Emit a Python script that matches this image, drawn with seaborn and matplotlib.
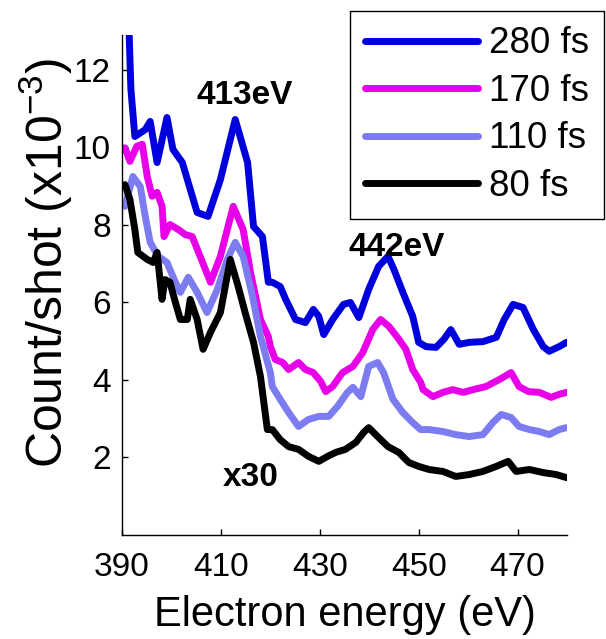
import matplotlib
matplotlib.use("Agg")
import matplotlib.pyplot as plt
from matplotlib.lines import Line2D
import numpy as np
import pandas as pd
import seaborn as sns

# ---- data ----
delays = ["280 fs", "170 fs", "110 fs", "80 fs"]
colors = ["#0000DC", "#E800E8", "#7C7CF0", "#000000"]

x_280 = [391.3, 391.8, 392.6, 394.7, 395.7, 397.1, 399.1, 400.3, 402.2, 403.8, 405.2, 407.4,
         409.9, 412.9, 415.4, 416.6, 418.4, 419.6, 420.4, 422.0, 423.1, 425.1, 427.1, 428.7,
         429.8, 430.8, 432.6, 434.8, 436.2, 437.9, 439.9, 441.9, 443.8, 445.0, 446.8, 448.8,
         450.0, 451.5, 453.5, 455.1, 456.5, 458.2, 460.2, 463.0, 465.7, 467.3, 469.1, 471.1,
         473.2, 475.2, 476.4, 478.4, 479.9]
y_280 = [13.5, 11.5, 10.28, 10.46, 10.67, 9.61, 10.77, 9.95, 9.61, 8.92, 8.32, 8.22,
         9.17, 10.72, 9.61, 7.96, 7.70, 6.52, 6.52, 6.41, 6.08, 5.56, 5.48, 5.82,
         5.64, 5.17, 5.56, 5.95, 6.00, 5.61, 6.34, 6.93, 7.19, 6.85, 6.26, 5.64,
         4.97, 4.86, 4.84, 5.05, 5.30, 4.92, 4.97, 4.99, 5.10, 5.56, 5.95, 5.87,
         5.30, 4.86, 4.74, 4.86, 4.97]

x_170 = [390.6, 391.6, 393.0, 394.1, 395.1, 396.1, 397.1, 398.1, 398.5, 399.7, 401.4, 402.8,
         404.2, 405.8, 407.9, 409.9, 412.5, 414.5, 416.0, 418.0, 419.6, 420.0, 421.0, 422.5,
         423.7, 425.7, 427.1, 428.7, 430.2, 431.2, 432.6, 434.6, 436.7, 438.7, 440.7, 442.3,
         444.0, 446.0, 447.4, 448.8, 450.4, 450.9, 452.9, 454.9, 456.9, 459.0, 461.0, 463.6,
         466.3, 468.7, 470.3, 472.2, 474.4, 476.8, 478.4, 479.9]
y_170 = [9.99, 9.64, 10.03, 10.08, 9.25, 8.74, 8.84, 8.48, 7.70, 8.01, 7.88, 7.75,
         7.70, 7.19, 6.52, 7.19, 8.48, 7.88, 6.77, 5.56, 5.12, 4.86, 4.53, 4.45,
         4.27, 4.45, 4.27, 4.19, 3.96, 3.70, 3.83, 4.19, 4.35, 4.71, 5.30, 5.56,
         5.38, 5.05, 4.79, 4.27, 3.94, 3.75, 3.57, 3.68, 3.75, 3.68, 3.75, 3.83,
         4.01, 4.19, 3.83, 3.70, 3.68, 3.55, 3.63, 3.68]

x_110 = [390.6, 392.2, 393.7, 394.7, 395.7, 397.3, 399.1, 400.8, 401.8, 403.4, 405.2, 407.2,
         409.3, 411.3, 412.9, 414.5, 416.4, 418.0, 420.0, 420.4, 422.0, 423.7, 425.7, 427.7,
         429.8, 431.8, 433.6, 435.6, 436.7, 438.3, 439.9, 441.7, 442.9, 444.8, 446.8, 448.8,
         450.4, 452.1, 454.9, 457.5, 460.2, 463.0, 465.0, 466.7, 468.7, 470.3, 472.4, 474.4,
         476.4, 478.4, 479.9]
y_110 = [8.48, 9.25, 8.99, 8.22, 7.55, 7.19, 7.03, 6.52, 6.26, 6.65, 6.26, 5.74,
         6.34, 7.11, 7.55, 7.19, 6.16, 5.12, 4.19, 3.83, 3.50, 3.16, 2.80, 2.98,
         3.06, 3.06, 3.32, 3.68, 3.81, 3.57, 4.35, 4.45, 4.19, 3.50, 3.16, 2.90,
         2.72, 2.72, 2.67, 2.59, 2.54, 2.59, 2.90, 3.11, 3.03, 2.80, 2.72, 2.67,
         2.59, 2.72, 2.77]

x_80 = [390.6, 391.6, 392.6, 393.2, 395.1, 396.3, 397.1, 398.1, 398.7, 399.7, 400.8, 401.8,
        403.2, 403.8, 405.2, 406.4, 407.9, 409.9, 411.9, 413.5, 414.9, 416.6, 418.0, 419.4,
        420.4, 422.0, 423.7, 425.7, 427.7, 429.8, 431.6, 433.2, 435.2, 437.3, 438.9, 439.9,
        441.7, 443.8, 446.0, 448.0, 450.0, 452.1, 454.9, 457.5, 460.2, 463.0, 465.7, 468.1,
        469.7, 472.4, 475.2, 477.8, 479.9]
y_80 = [9.04, 8.66, 7.88, 7.29, 7.11, 7.03, 7.29, 6.08, 6.59, 6.52, 6.00, 5.56,
        5.56, 6.08, 5.56, 4.79, 5.23, 5.74, 7.11, 6.41, 5.74, 4.97, 4.09, 2.72,
        2.72, 2.46, 2.28, 2.21, 2.03, 1.90, 2.03, 2.13, 2.21, 2.39, 2.65, 2.77,
        2.54, 2.28, 2.13, 1.87, 1.77, 1.69, 1.64, 1.51, 1.56, 1.64, 1.77, 1.90,
        1.64, 1.69, 1.61, 1.56, 1.48]

xticks = [390, 410, 430, 450, 470]
yticks = [2, 4, 6, 8, 10, 12]
annotations = [("413eV", 414.9, 11.33), ("442eV", 445.6, 7.42), ("x30", 416.0, 1.48)]

# ---- build table ----
frames = []
for lab, xs, ys in zip(delays, [x_280, x_170, x_110, x_80], [y_280, y_170, y_110, y_80]):
    frames.append(pd.DataFrame({"energy": xs, "count": ys, "delay": lab}))
df = pd.concat(frames, ignore_index=True)

sns.set_theme(style="ticks")
plt.rcParams["font.family"] = ["Liberation Sans", "DejaVu Sans"]
plt.rcParams["mathtext.fontset"] = "custom"
plt.rcParams["mathtext.rm"] = "Liberation Sans"
plt.rcParams["mathtext.it"] = "Liberation Sans"
plt.rcParams["xtick.direction"] = "in"
plt.rcParams["ytick.direction"] = "in"
for key in ["text.color", "axes.labelcolor", "xtick.color", "ytick.color", "axes.edgecolor"]:
    plt.rcParams[key] = "black"

fig = plt.figure(figsize=(6.06, 6.39), dpi=100)
ax = fig.add_axes([122 / 606, 1 - 535 / 639, 445 / 606, 500 / 639])

sns.lineplot(data=df, x="energy", y="count", hue="delay", hue_order=delays,
             palette=colors, sort=False, estimator=None, lw=5, legend=False, ax=ax,
             solid_joinstyle="round")

ax.set_xlim(390, 480)
ax.set_ylim(0, 12.9)
ax.set_xticks(xticks)
ax.set_yticks(yticks)
ax.tick_params(axis="both", labelsize=24, length=4, width=1, color="black")
ax.tick_params(axis="x", pad=12)
ax.tick_params(axis="y", pad=8)
for s in ["top", "right"]:
    ax.spines[s].set_visible(False)
for s in ["left", "bottom"]:
    ax.spines[s].set_color("black")
    ax.spines[s].set_linewidth(1)

ax.set_xlabel("Electron energy (eV)", fontsize=30, labelpad=9)
ax.set_ylabel(r"Count/shot (x10$^{\mathregular{-3}}$)", fontsize=36)
ax.yaxis.set_label_coords(-0.105, 0.545)

for txt, xv, yv in annotations:
    ax.text(xv, yv, txt, fontsize=24, fontweight="bold", ha="center", va="center")

handles = [Line2D([0], [0], color=c, lw=5) for c in colors]
leg = ax.legend(handles, delays, loc="upper left", bbox_to_anchor=(350 / 606, 1 - 11 / 639),
                bbox_transform=fig.transFigure, fontsize=26.5, frameon=True, fancybox=False,
                edgecolor="black", borderaxespad=0, borderpad=0.42, handlelength=3.05,
                handletextpad=0.3, labelspacing=0.34)
leg.get_frame().set_linewidth(1)
leg.get_frame().set_alpha(1)

fig.savefig("out.png", dpi=100)
